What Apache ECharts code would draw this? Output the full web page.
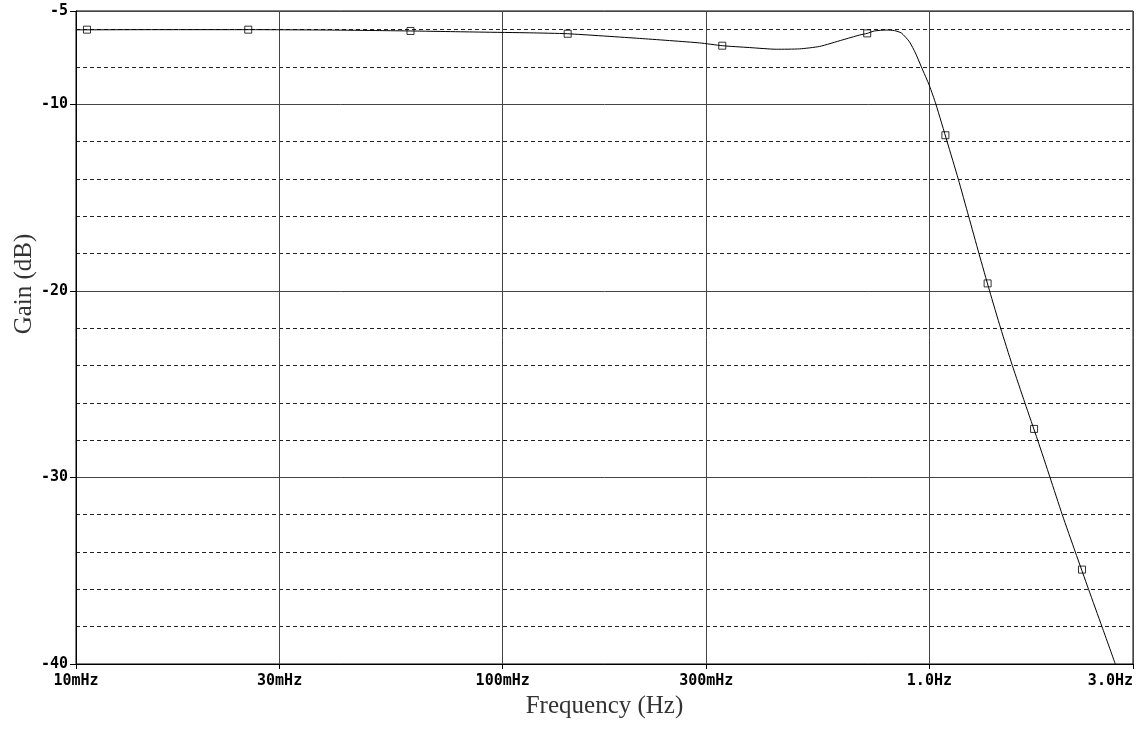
<!DOCTYPE html>
<html>
<head>
<meta charset="utf-8">
<title>Gain (dB) vs Frequency (Hz)</title>
<script src="https://cdn.jsdelivr.net/npm/echarts@6/dist/echarts.min.js"></script>
<style>
  html, body { margin: 0; padding: 0; background: #fff; }
  #chart { width: 1147px; height: 736px; }
</style>
</head>
<body>
<div id="chart"></div>
<script>
// Frequency response trace (Hz, dB)
const traceFreq = [
  0.0100, 0.01573, 0.02528, 0.03933, 0.0515, 0.0609, 0.0883, 0.1157, 0.142,
  0.2094, 0.2893, 0.327, 0.3789, 0.4383, 0.4962, 0.5527, 0.6256, 0.6857,
  0.7148, 0.7433, 0.7931, 0.8279, 0.8597, 0.8978, 0.9273, 0.9578, 1.0,
  1.0357, 1.1003, 1.1682, 1.2356, 1.3066, 1.3834, 1.4686, 1.5645, 1.6737,
  1.7934, 1.9171, 2.0483, 2.1978, 2.3606, 2.5378, 2.7268
];
const traceGain = [
  -6.01, -6.00, -6.00, -6.02, -6.05, -6.07, -6.13, -6.17, -6.22,
  -6.47, -6.71, -6.86, -6.96, -7.05, -7.03, -6.90, -6.55, -6.29,
  -6.20, -6.07, -6.02, -6.05, -6.18, -6.65, -7.25, -8.00, -9.00,
  -10.0, -12.0, -14.0, -16.0, -18.0, -20.0, -22.0, -24.0, -26.0,
  -28.0, -30.0, -32.0, -34.0, -36.0, -38.0, -40.0
];

// Square markers placed along the trace
const markerFreq = [0.01061, 0.02533, 0.0608, 0.1420, 0.3270, 0.7148, 1.0901, 1.369, 1.759, 2.278];
const markerGain = [-6.00, -6.00, -6.07, -6.22, -6.86, -6.20, -11.66, -19.6, -27.4, -34.94];

// Axis ticks
const freqTicks = [0.01, 0.03, 0.1, 0.3, 1.0, 3.0];
const freqTickLabels = ['10mHz', '30mHz', '100mHz', '300mHz', '1.0Hz', '3.0Hz'];
const gainMajorTicks = [-40, -30, -20, -10, -5];
const gainMinorTicks = [-38, -36, -34, -32, -28, -26, -24, -22, -18, -16, -14, -12, -8, -6];

// The frequency axis is a linear value axis over log10(f)
const lg = Math.log10;
const xTickVals = freqTicks.map(lg);
const xMin = lg(freqTicks[0]);
const xMax = lg(freqTicks[freqTicks.length - 1]);

const traceData = traceFreq.map((f, i) => [lg(f), traceGain[i]]);
const markerData = markerFreq.map((f, i) => [lg(f), markerGain[i]]);

const monoFont = { fontFamily: 'DejaVu Sans Mono', fontWeight: 'bold', fontSize: 15, color: '#000' };
const serifFont = 'Liberation Serif';

const chart = echarts.init(document.getElementById('chart'), null, { renderer: 'canvas' });

chart.setOption({
  animation: false,
  backgroundColor: '#fff',
  grid: {
    left: 76, right: 14, top: 11, bottom: 72,
    show: true, borderColor: '#000', borderWidth: 1, backgroundColor: '#fff'
  },
  xAxis: {
    type: 'value',
    min: xMin,
    max: xMax,
    name: 'Frequency (Hz)',
    nameLocation: 'middle',
    nameGap: 28,
    nameTextStyle: { fontFamily: serifFont, fontSize: 25, color: '#333' },
    axisLine: { show: true, lineStyle: { color: '#000', width: 1 } },
    axisTick: { show: true, length: 5, lineStyle: { color: '#000' }, customValues: xTickVals },
    axisLabel: {
      customValues: xTickVals,
      margin: 10,
      alignMaxLabel: 'right',
      ...monoFont,
      formatter: v => {
        const i = xTickVals.findIndex(t => Math.abs(t - v) < 1e-6);
        return i >= 0 ? freqTickLabels[i] : '';
      }
    },
    splitLine: { show: true, lineStyle: { color: '#444', width: 1, type: 'solid' } }
  },
  yAxis: [
    {
      // dashed 2 dB lines
      type: 'value',
      position: 'left',
      min: -40, max: -5,
      axisLine: { show: false },
      axisTick: { show: false, customValues: gainMinorTicks },
      axisLabel: { show: false, customValues: gainMinorTicks },
      splitLine: { show: true, lineStyle: { color: '#222', width: 1, type: [4, 3] } }
    },
    {
      // labelled 10 dB lines
      type: 'value',
      position: 'left',
      min: -40, max: -5,
      axisLine: { show: true, lineStyle: { color: '#000', width: 1 } },
      axisTick: { show: true, length: 6, lineStyle: { color: '#000' }, customValues: gainMajorTicks },
      axisLabel: { customValues: gainMajorTicks, margin: 8, ...monoFont, formatter: v => String(v) },
      splitLine: { show: true, lineStyle: { color: '#444', width: 1, type: 'solid' } }
    }
  ],
  graphic: [
    {
      type: 'text',
      x: 24,
      y: 284,
      rotation: Math.PI / 2,
      style: {
        text: 'Gain (dB)',
        font: '25px "Liberation Serif"',
        fill: '#333',
        textAlign: 'center',
        textVerticalAlign: 'middle'
      }
    }
  ],
  series: [
    {
      name: 'Gain',
      type: 'line',
      yAxisIndex: 1,
      data: traceData,
      showSymbol: false,
      symbol: 'none',
      smooth: 0.2,
      clip: true,
      lineStyle: { color: '#000', width: 1 },
      z: 5
    },
    {
      name: 'Markers',
      type: 'scatter',
      yAxisIndex: 1,
      data: markerData,
      symbol: 'rect',
      symbolSize: 7,
      itemStyle: { color: 'rgba(255,255,255,0)', borderColor: '#000', borderWidth: 1 },
      z: 6
    }
  ]
});
</script>
</body>
</html>
